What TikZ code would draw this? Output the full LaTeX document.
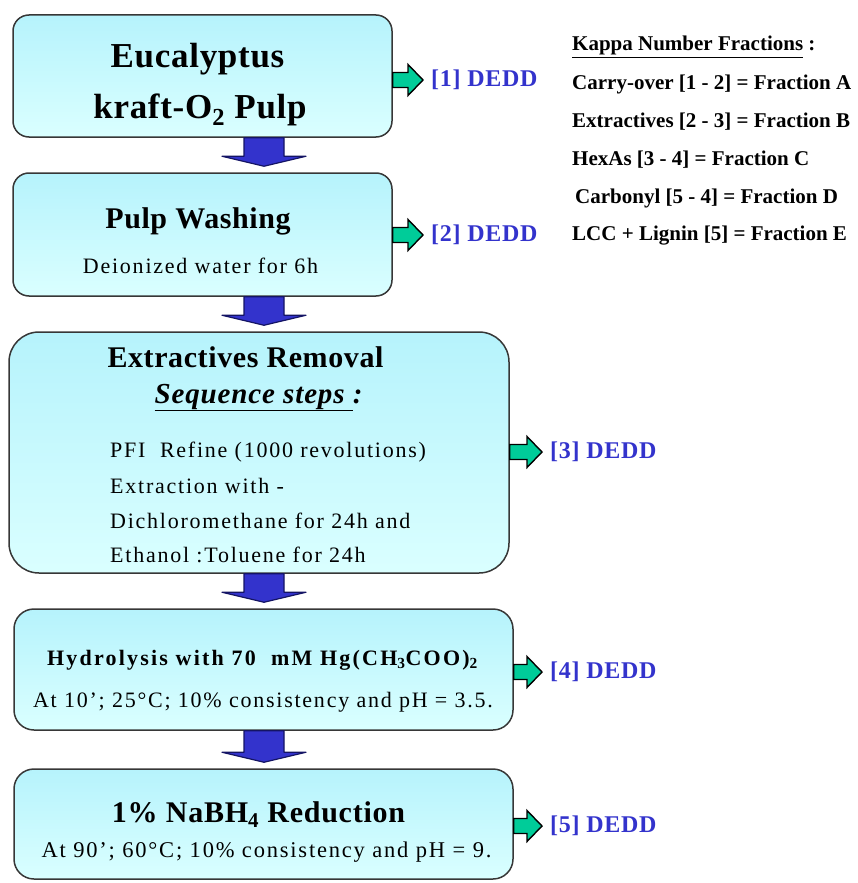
\documentclass[tikz,border=0pt]{standalone}
\usepackage{fontspec}
\setmainfont{Liberation Serif}
\usetikzlibrary{calc,positioning}

\definecolor{boxtop}{RGB}{182,243,252}
\definecolor{boxbot}{RGB}{218,255,255}
\definecolor{boxline}{RGB}{55,55,55}
\definecolor{flowblue}{RGB}{51,51,204}
\definecolor{flowline}{RGB}{20,20,100}
\definecolor{outgreen}{RGB}{0,204,153}
\definecolor{deddblue}{RGB}{51,51,204}

% block arrow between two stages (down the common axis ax)
\newcommand{\downflow}[2]{%
  \draw[flowarrow] ($(#1.south -| ax)+(-20,0)$) -- ($(#2.north -| ax)+(-20,-16)$) -- ++(-22,0)
    -- ($(#2.north -| ax)+(0,-6)$) -- ($(#2.north -| ax)+(42,-16)$) -- ++(-22,0)
    -- ($(#1.south -| ax)+(20,0)$) -- cycle;}
% small arrow from a stage to its DEDD label
\newcommand{\outflow}[2]{%
  \draw[outarrow] ($(#1.east |- #2.west)+(0,-7.5)$) -- ($(#2.west)+(-23,-7.5)$) -- ++(0,-8)
    -- ($(#2.west)+(-8,0)$) -- ($(#2.west)+(-23,15.5)$) -- ++(0,-8)
    -- ($(#1.east |- #2.west)+(0,7.5)$) -- cycle;}

\begin{document}
\begin{tikzpicture}[x=1pt, y=-1pt,
    stage/.style={draw=boxline, line width=1.5pt, rounded corners=16pt, top color=boxtop, bottom color=boxbot, inner sep=0pt},
    txt/.style={inner sep=0pt, anchor=base},
    headL/.style={txt, font=\fontsize{35}{38}\selectfont\bfseries\addfontfeatures{LetterSpace=2}},
    headM/.style={txt, font=\fontsize{30}{33}\selectfont\bfseries\addfontfeatures{LetterSpace=2}},
    headS/.style={txt, font=\fontsize{22}{26}\selectfont\bfseries\addfontfeatures{LetterSpace=10}},
    body/.style={txt, font=\fontsize{22}{26}\selectfont\addfontfeatures{LetterSpace=8}},
    legend/.style={inner sep=0pt, anchor=base west, font=\fontsize{21}{24}\selectfont\bfseries},
    dedd/.style={inner sep=0pt, anchor=west, text=deddblue, font=\fontsize{24}{26}\selectfont\bfseries\addfontfeatures{LetterSpace=3}},
    flowarrow/.style={fill=flowblue, draw=flowline, line width=1.2pt, line join=round},
    outarrow/.style={fill=outgreen, draw=black, line width=1.4pt, line join=miter}]
    \useasboundingbox (0,0) rectangle (857,883);
    \coordinate (ax) at (264,0);

    % Stages
    \node[stage, minimum width=379pt, minimum height=122pt] (pulp) at (202.5,76) {};
    \node[stage, minimum width=379pt, minimum height=123pt] (wash) at (202.5,234.5) {};
    \node[stage, rounded corners=30pt, minimum width=500pt, minimum height=241pt] (extr) at (259,452.5) {};
    \node[stage, rounded corners=20pt, minimum width=499pt, minimum height=121pt] (hydro) at (263.5,669.5) {};
    \node[stage, rounded corners=20pt, minimum width=499pt, minimum height=110pt] (reduc) at (263.5,824) {};

    % Stage texts
    \node[headL] (pulpA) at (197.5,67) {Eucalyptus};
    \node[headL] (pulpB) at (200,118) {kraft-O\textsubscript{2} Pulp};
    \node[headM] (washA) at (198,228) {Pulp Washing};
    \node[body] (washB) at (200.5,273) {Deionized water for 6h};
    \node[headM] (extrA) at (245.5,367) {Extractives Removal};
    \node[headM, font=\fontsize{29}{32}\selectfont\bfseries\itshape\addfontfeatures{LetterSpace=3}] (extrB) at (258.5,403) {\underline{Sequence steps }:};
    \node[body, anchor=base west] (step1) at (110,457) {PFI~~Refine (1000 revolutions)};
    \node[body, anchor=base west] (step2) at (110,493) {Extraction with -};
    \node[body, anchor=base west] (step3) at (110,528) {Dichloromethane for 24h and};
    \node[body, anchor=base west] (step4) at (110,562) {Ethanol :Toluene for 24h};
    \node[headS] (hydroA) at (262.5,665) {Hydrolysis with 70~~mM Hg(CH\textsubscript{3}COO)\textsubscript{2}};
    \node[body] (hydroB) at (263,707) {At 10'; 25°C; 10\%~consistency and pH = 3.5.};
    \node[headM, font=\fontsize{30}{33}\selectfont\bfseries\addfontfeatures{LetterSpace=2.5}] (reducA) at (258.5,822) {1\% NaBH\textsubscript{4} Reduction};
    \node[body, font=\fontsize{22.5}{26}\selectfont\addfontfeatures{LetterSpace=8}] (reducB) at (266.5,857) {At 90'; 60°C; 10\% consistency and pH = 9.};

    % Flow down
    \downflow{pulp}{wash}
    \downflow{wash}{extr}
    \downflow{extr}{hydro}
    \downflow{hydro}{reduc}

    % DEDD outputs
    \node[dedd] (out1) at (431,80) {[1] DEDD};
    \node[dedd] (out2) at (431,235) {[2] DEDD};
    \node[dedd] (out3) at (550,452) {[3] DEDD};
    \node[dedd] (out4) at (550,672) {[4] DEDD};
    \node[dedd] (out5) at (550,826) {[5] DEDD};
    \outflow{pulp}{out1}
    \outflow{wash}{out2}
    \outflow{extr}{out3}
    \outflow{hydro}{out4}
    \outflow{reduc}{out5}

    % Kappa fractions
    \node[legend] (kappa) at (572,51) {\underline{Kappa Number Fractions} :};
    \node[legend] (fracA) at (572,89) {Carry-over [1 - 2] = Fraction A};
    \node[legend] (fracB) at (572,127) {Extractives [2 - 3] = Fraction B};
    \node[legend] (fracC) at (572,165) {HexAs [3 - 4] = Fraction C};
    \node[legend] (fracD) at (575,203) {Carbonyl [5 - 4] = Fraction D};
    \node[legend] (fracE) at (572,240) {LCC + Lignin [5] = Fraction E};
\end{tikzpicture}
\end{document}
